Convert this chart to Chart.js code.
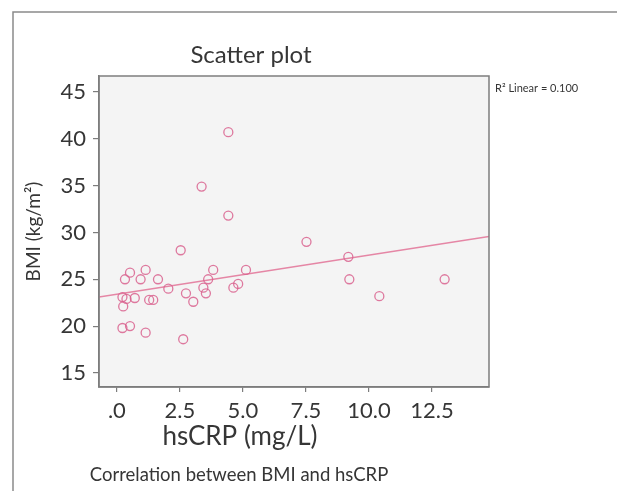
<!DOCTYPE html>
<html>
<head>
<meta charset="utf-8">
<script src="https://cdn.jsdelivr.net/npm/chart.js@4.4.1/dist/chart.umd.min.js"></script>
<style>
  html, body { margin: 0; padding: 0; background: #fff; }
  #wrap { width: 617px; height: 491px; position: relative; }
</style>
</head>
<body>
<div id="wrap"><canvas id="myChart" width="617" height="491"></canvas></div>
<script>
// values: hsCRP (mg/L) vs BMI (kg/m2)
const hsCRP = [0.22, 0.38, 0.71, 0.25, 0.32, 0.52, 0.94, 1.14, 1.28, 1.44, 1.63, 2.04,
  0.22, 0.52, 1.14, 2.63, 2.53, 2.74, 3.03, 3.43, 3.53, 3.62, 3.82, 3.36,
  4.42, 4.42, 4.62, 4.81, 5.12, 7.52, 9.18, 9.22, 10.41, 13.0];
const bmi = [23.1, 22.9, 23.0, 22.1, 25.0, 25.7, 25.0, 26.0, 22.8, 22.8, 25.0, 24.0,
  19.8, 20.0, 19.3, 18.6, 28.1, 23.5, 22.6, 24.1, 23.5, 25.0, 26.0, 34.9,
  40.7, 31.8, 24.1, 24.5, 26.0, 29.0, 27.4, 25.0, 23.2, 25.0];

// fit line ends, at the edges of the plot
const fitX = [-0.71, 14.76];
const fitY = [23.1, 29.57];

const xTicks = [0, 2.5, 5, 7.5, 10, 12.5];
const yTicks = [15, 20, 25, 30, 35, 40, 45];

const pink = 'rgba(217, 98, 142, 0.85)';
const axisGray = '#7d7d7d';
const textGray = '#363636';
const fontName = 'Lato, "Open Sans", sans-serif';

const frame = {
  id: 'frame',
  beforeDraw(chart) {
    const c = chart.ctx;
    const a = chart.chartArea;
    c.save();
    c.fillStyle = '#f4f4f4';
    c.fillRect(a.left, a.top, a.right - a.left, a.bottom - a.top);
    c.restore();
  },
  afterDraw(chart) {
    const c = chart.ctx;
    const a = chart.chartArea;
    c.save();
    // box round the plot
    c.strokeStyle = axisGray;
    c.lineWidth = 1.5;
    c.strokeRect(a.left, a.top, a.right - a.left, a.bottom - a.top);
    // outer figure border
    c.strokeStyle = '#8a8a8a';
    c.beginPath();
    c.moveTo(13, 491);
    c.lineTo(13, 12);
    c.lineTo(617, 12);
    c.stroke();
    // texts
    c.fillStyle = textGray;
    c.textBaseline = 'middle';
    c.textAlign = 'center';
    c.font = '26px ' + fontName;
    c.fillText('hsCRP (mg/L)', 240, 437);
    c.font = '18.5px ' + fontName;
    c.fillText('Correlation between BMI and hsCRP', 239, 475);
    c.textAlign = 'left';
    c.font = '11px ' + fontName;
    c.fillText('R\u00B2 Linear = 0.100', 495, 88);
    c.restore();
  }
};

let myChart = '';

const init = function () {
  const ctx = document.getElementById('myChart').getContext('2d');
  const points = hsCRP.map((x, i) => ({ x: x, y: bmi[i] }));
  const fitLine = fitX.map((x, i) => ({ x: x, y: fitY[i] }));

  myChart = new Chart(ctx, {
    type: 'scatter',
    data: {
      datasets: [
        {
          label: 'BMI',
          data: points,
          pointStyle: 'circle',
          pointRadius: 4.5,
          pointBorderWidth: 1.3,
          borderColor: pink,
          backgroundColor: 'rgba(0,0,0,0)',
        },
        {
          type: 'line',
          label: 'fit',
          data: fitLine,
          borderColor: 'rgba(228, 128, 160, 0.95)',
          borderWidth: 1.6,
          pointRadius: 0,
          fill: false,
        },
      ],
    },
    options: {
      responsive: false,
      animation: false,
      layout: { padding: { left: 13, right: 128, top: 12, bottom: 64 } },
      plugins: {
        legend: { display: false },
        tooltip: { enabled: false },
        title: {
          display: true,
          text: 'Scatter plot',
          color: textGray,
          font: { family: fontName, size: 24, weight: 'normal', lineHeight: 1 },
          padding: { top: 31, bottom: 9 },
        },
      },
      scales: {
        x: {
          type: 'linear',
          min: fitX[0],
          max: fitX[1],
          afterBuildTicks: (scale) => { scale.ticks = xTicks.map((v) => ({ value: v })); },
          afterFit: (scale) => { scale.height = 40; },
          border: { display: true, color: axisGray, width: 1.5 },
          grid: { drawOnChartArea: false, drawTicks: true, tickLength: 5, color: axisGray, lineWidth: 1.2 },
          ticks: {
            color: textGray,
            padding: 6,
            maxRotation: 0,
            autoSkip: false,
            font: { family: fontName, size: 22 },
            callback: (v) => (v === 0 ? '.0' : v.toFixed(1)),
          },
        },
        y: {
          type: 'linear',
          min: 13.5,
          max: 46.7,
          afterBuildTicks: (scale) => { scale.ticks = yTicks.map((v) => ({ value: v })); },
          afterFit: (scale) => { scale.width = 86; },
          border: { display: true, color: axisGray, width: 1.5 },
          grid: { drawOnChartArea: false, drawTicks: true, tickLength: 6, color: axisGray, lineWidth: 1.2 },
          ticks: {
            color: textGray,
            padding: 7,
            autoSkip: false,
            font: { family: fontName, size: 22 },
          },
          title: {
            display: true,
            text: 'BMI (kg/m\u00B2)',
            color: textGray,
            font: { family: fontName, size: 19, lineHeight: 1 },
            padding: { top: 11, bottom: 0 },
          },
        },
      },
    },
    plugins: [frame],
  });
};

document.addEventListener('DOMContentLoaded', init);
</script>
</body>
</html>
